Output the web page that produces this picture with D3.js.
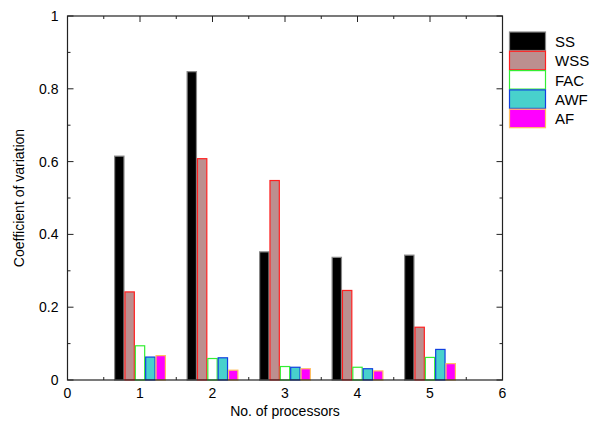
<!DOCTYPE html>
<html>
<head>
<meta charset="utf-8">
<script src="https://cdn.jsdelivr.net/npm/d3@7/dist/d3.min.js"></script>
<style>
body{margin:0;background:#fff;}
svg text{font-family:"Liberation Sans",Arial,Helvetica,sans-serif;}
</style>
</head>
<body>
<svg id="chart" width="595" height="426"></svg>
<script>
const processors = [1, 2, 3, 4, 5];
const seriesNames = ["SS", "WSS", "FAC", "AWF", "AF"];
const SS  = [0.615, 0.847, 0.352, 0.337, 0.343];
const WSS = [0.242, 0.608, 0.548, 0.246, 0.145];
const FAC = [0.094, 0.059, 0.037, 0.035, 0.062];
const AWF = [0.063, 0.061, 0.035, 0.031, 0.084];
const AF  = [0.067, 0.027, 0.031, 0.025, 0.045];
const xTicks = [0, 1, 2, 3, 4, 5, 6];
const yTicks = [0, 0.2, 0.4, 0.6, 0.8, 1];
const yTickLabels = ["0", "0.2", "0.4", "0.6", "0.8", "1"];

const seriesValues = [SS, WSS, FAC, AWF, AF];
const fills = ["#000000", "#bc8f8f", "#ffffff", "#48d1cc", "#ff00ff"];
const strokes = ["#888888", "#ff2020", "#33ee33", "#1040e0", "#ffc060"];

const svg = d3.select("#chart");
const L = 67.5, R = 502.5, T = 16, B = 380;
const x = d3.scaleLinear().domain([0, 6]).range([L, R]);
const y = d3.scaleLinear().domain([0, 1]).range([B, T]);
const bw = 1 / 7;

// ticks (drawn first so bars cover them)
const tickG = svg.append("g").attr("stroke", "#222").attr("stroke-width", 1);
d3.range(0, 1.0001, 0.1).forEach((v, k) => {
  const len = (k % 2 === 0) ? 6 : 3;
  tickG.append("line").attr("x1", L).attr("x2", L + len).attr("y1", y(v)).attr("y2", y(v));
  tickG.append("line").attr("x1", R).attr("x2", R - len).attr("y1", y(v)).attr("y2", y(v));
});
d3.range(0, 6.0001, 0.5).forEach((v, k) => {
  const len = (k % 2 === 0) ? 6 : 3;
  tickG.append("line").attr("x1", x(v)).attr("x2", x(v)).attr("y1", B).attr("y2", B - len);
  tickG.append("line").attr("x1", x(v)).attr("x2", x(v)).attr("y1", T).attr("y2", T + len);
});

// bars
seriesValues.forEach((vals, si) => {
  svg.append("g").selectAll("rect").data(vals).enter().append("rect")
    .attr("x", (d, i) => x(processors[i] + (si - 2.5) * bw) + 0.5)
    .attr("y", d => y(d))
    .attr("width", x(bw) - x(0) - 1)
    .attr("height", d => y(0) - y(d))
    .attr("fill", fills[si])
    .attr("stroke", strokes[si])
    .attr("stroke-width", 1.2);
});

// frame
svg.append("rect").attr("x", L).attr("y", T).attr("width", R - L).attr("height", B - T)
  .attr("fill", "none").attr("stroke", "#222").attr("stroke-width", 1.2);

// tick labels
svg.append("g").selectAll("text").data(yTicks).enter().append("text")
  .attr("x", L - 9).attr("y", d => y(d) + 5)
  .attr("text-anchor", "end").attr("font-size", 14).attr("fill", "#000")
  .text((d, i) => yTickLabels[i]);
svg.append("g").selectAll("text").data(xTicks).enter().append("text")
  .attr("x", d => x(d)).attr("y", B + 18)
  .attr("text-anchor", "middle").attr("font-size", 14).attr("fill", "#000")
  .text(d => d);

// axis titles
svg.append("text").attr("x", 285).attr("y", 416).attr("text-anchor", "middle")
  .attr("font-size", 14).text("No. of processors");
svg.append("text").attr("transform", "translate(24,198) rotate(-90)")
  .attr("text-anchor", "middle").attr("font-size", 14).text("Coefficient of variation");

// legend
const lg = svg.append("g");
seriesNames.forEach((name, si) => {
  const yy = 32 + si * 19.3;
  lg.append("rect").attr("x", 509.5).attr("y", yy).attr("width", 36).attr("height", 18.5)
    .attr("fill", fills[si]).attr("stroke", strokes[si]).attr("stroke-width", 1.2);
  lg.append("text").attr("x", 555).attr("y", yy + 15).attr("font-size", 15).text(name);
});
</script>
</body>
</html>
